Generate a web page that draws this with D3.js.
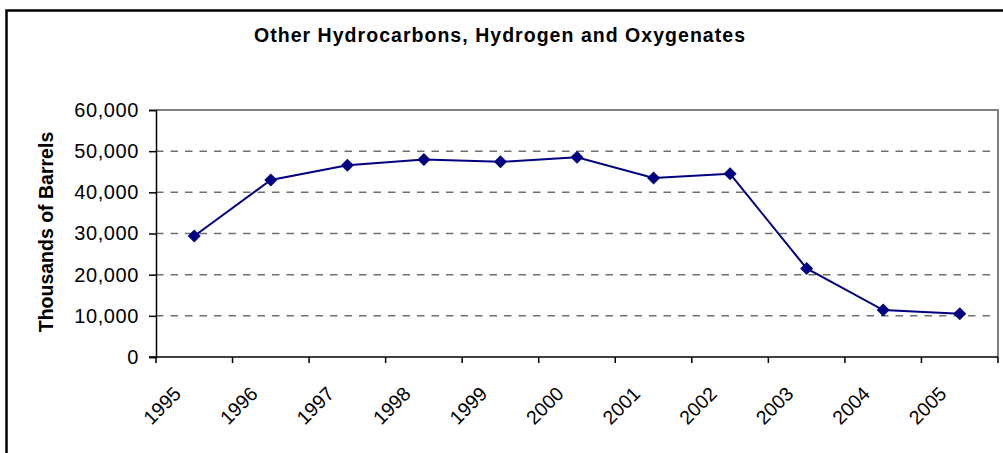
<!DOCTYPE html>
<meta charset="utf-8">
<style>
body { margin: 0; background: #fff; }
text { font-family: "Liberation Sans", Arial, sans-serif; fill: #000; }
</style>
<body>
<script src="https://cdn.jsdelivr.net/npm/d3@7"></script>
<script>

var years = ["1995", "1996", "1997", "1998", "1999", "2000", "2001", "2002", "2003", "2004", "2005"];
var barrels = [29400, 43000, 46600, 48000, 47400, 48500, 43500, 44500, 21500, 11400, 10500];
var yTicks = [0, 10000, 20000, 30000, 40000, 50000, 60000];

var w = 1003,
    h = 453,
    pLeft = 156,
    pRight = 998,
    pTop = 110,
    pBottom = 357;

var svg = d3.select("body").append("svg")
    .attr("width", w)
    .attr("height", h);

// outer frame (only top and left edges visible)
svg.append("rect")
    .attr("x", 6.5).attr("y", 10.5)
    .attr("width", w + 20).attr("height", h + 20)
    .attr("fill", "none")
    .attr("stroke", "#000")
    .attr("stroke-width", 2.5);

svg.append("text")
    .attr("x", 254)
    .attr("y", 42)
    .attr("textLength", 491)
    .attr("lengthAdjust", "spacing")
    .style("font-size", "19.5px")
    .style("font-weight", "bold")
    .text("Other Hydrocarbons, Hydrogen and Oxygenates");

var x = d3.scaleBand().domain(years).range([pLeft, pRight]);
var y = d3.scaleLinear().domain([0, 60000]).range([pBottom, pTop]);

// grid lines
svg.append("g").selectAll("line")
    .data(yTicks.filter(function(d) { return d > 0 && d < 60000; }))
  .enter().append("line")
    .attr("x1", pLeft).attr("x2", pRight)
    .attr("y1", function(d) { return y(d); })
    .attr("y2", function(d) { return y(d); })
    .attr("stroke", "#707070")
    .attr("stroke-width", 1.5)
    .attr("stroke-dasharray", "7.5,7");

// plot border, top and right
svg.append("path")
    .attr("d", "M" + pLeft + "," + pTop + "H" + pRight + "V" + pBottom)
    .attr("fill", "none")
    .attr("stroke", "#808080")
    .attr("stroke-width", 2);

// y axis
var yAxis = svg.append("g")
    .attr("transform", "translate(" + pLeft + ",0)")
    .call(d3.axisLeft(y).tickValues(yTicks).tickSize(7).tickPadding(10).tickFormat(d3.format(",")));
yAxis.select(".domain").attr("stroke", "#000").attr("stroke-width", 1.5);
yAxis.selectAll(".tick line").attr("stroke", "#000").attr("stroke-width", 1.5);
yAxis.selectAll("text")
    .style("font-size", "20px")
    .style("letter-spacing", "0.6px")
    .style("font-family", "'Liberation Sans', Arial, sans-serif")
    .attr("fill", "#000");

// x axis, ticks on category boundaries
var bounds = years.map(function(d) { return x(d); }).concat([pRight]);
svg.append("g").selectAll("line")
    .data(bounds)
  .enter().append("line")
    .attr("x1", function(d) { return d; }).attr("x2", function(d) { return d; })
    .attr("y1", pBottom).attr("y2", pBottom + 6)
    .attr("stroke", "#000")
    .attr("stroke-width", 1.5);
svg.append("line")
    .attr("x1", pLeft - 7).attr("x2", pRight)
    .attr("y1", pBottom).attr("y2", pBottom)
    .attr("stroke", "#000")
    .attr("stroke-width", 1.5);

svg.append("g").selectAll("text")
    .data(years)
  .enter().append("text")
    .attr("transform", function(d) {
      return "translate(" + (x(d) + x.bandwidth() / 2 - 12) + "," + (pBottom + 38) + ") rotate(-45)";
    })
    .attr("text-anchor", "end")
    .style("font-size", "19.5px")
    .text(function(d) { return d; });

svg.append("text")
    .attr("transform", "translate(53,232) rotate(-90)")
    .attr("text-anchor", "middle")
    .style("font-size", "19.5px")
    .style("font-weight", "bold")
    .text("Thousands of Barrels");

// series
var pts = years.map(function(d, i) { return [x(d) + x.bandwidth() / 2, y(barrels[i])]; });

svg.append("path")
    .attr("d", d3.line()(pts))
    .attr("fill", "none")
    .attr("stroke", "#000080")
    .attr("stroke-width", 2);

svg.append("g").selectAll("path")
    .data(pts)
  .enter().append("path")
    .attr("transform", function(d) { return "translate(" + d[0] + "," + d[1] + ")"; })
    .attr("d", "M0,-6.5L6.5,0L0,6.5L-6.5,0Z")
    .attr("fill", "#000080");

</script>
